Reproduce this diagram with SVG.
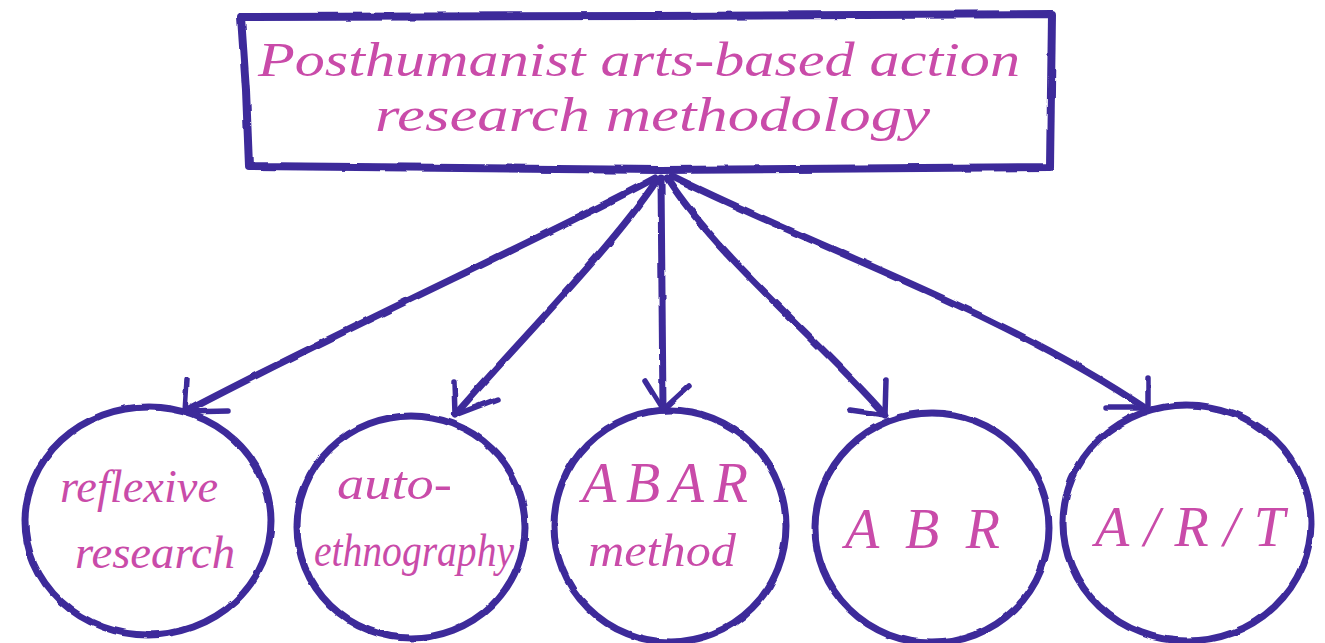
<svg xmlns="http://www.w3.org/2000/svg" width="1325" height="643" viewBox="0 0 1325 643">
  <defs>
    <!-- slight wobble for a hand-inked look -->
    <filter id="rough" x="-5%" y="-5%" width="110%" height="110%">
      <feTurbulence type="fractalNoise" baseFrequency="0.045" numOctaves="2" seed="3" result="n"/>
      <feDisplacementMap in="SourceGraphic" in2="n" scale="3" xChannelSelector="R" yChannelSelector="G"/>
    </filter>
    <style>
      .ink { fill: none; stroke: #3d2b9a; stroke-linecap: round; stroke-linejoin: round; }
      .box { stroke-width: 8; }
      .ring { stroke-width: 7; }
      .line { stroke-width: 7; }
      .head { stroke-width: 5.5; }
      .hand { fill: #c94ba9; font-family: "Liberation Serif", "DejaVu Serif", serif; font-style: italic; }
      .title { font-size: 48px; }
      .lbl { font-size: 46px; }
      .caps { font-size: 56px; }
    </style>
  </defs>
  <rect width="1325" height="643" fill="#ffffff"/>

  <g id="connectors" class="ink" filter="url(#rough)">
    <path class="line" d="M655,178 C560,230 340,330 185,412"/>
    <path class="head" d="M187,380 L185,412 L228,411"/>
    <path class="line" d="M657,180 C610,250 520,340 455,415"/>
    <path class="head" d="M454,382 L455,415 L497,399"/>
    <path class="line" d="M661,178 L663,410"/>
    <path class="head" d="M645,381 L663,410 L689,386"/>
    <path class="line" d="M667,178 C720,260 820,340 885,415"/>
    <path class="head" d="M886,380 L885,415 L850,410"/>
    <path class="line" d="M672,176 C820,250 1000,310 1148,410"/>
    <path class="head" d="M1148,378 L1148,408 L1106,408"/>
  </g>

  <g id="node-root">
    <path class="ink box" filter="url(#rough)" d="M241,17 L650,16 L1052,14 L1051,90 L1050,167 L660,170 L249,166 L246,90 Z"/>
    <text class="hand title" x="258" y="76" textLength="762" lengthAdjust="spacingAndGlyphs">Posthumanist arts-based action</text>
    <text class="hand title" x="375" y="131" textLength="555" lengthAdjust="spacingAndGlyphs">research methodology</text>
  </g>

  <g id="node-reflexive">
    <ellipse class="ink ring" filter="url(#rough)" cx="148" cy="521" rx="123" ry="114"/>
    <text class="hand lbl" x="60" y="502" textLength="158" lengthAdjust="spacingAndGlyphs">reflexive</text>
    <text class="hand lbl" x="75" y="568" textLength="160" lengthAdjust="spacingAndGlyphs">research</text>
  </g>

  <g id="node-autoethnography">
    <ellipse class="ink ring" filter="url(#rough)" cx="411" cy="527" rx="114" ry="111"/>
    <text class="hand lbl" x="337" y="499" textLength="115" lengthAdjust="spacingAndGlyphs">auto-</text>
    <text class="hand lbl" x="314" y="566" textLength="200" lengthAdjust="spacingAndGlyphs">ethnography</text>
  </g>

  <g id="node-abar">
    <ellipse class="ink ring" filter="url(#rough)" cx="670" cy="526" rx="116" ry="116"/>
    <text class="hand caps" x="582" y="502" textLength="166" lengthAdjust="spacing">ABAR</text>
    <text class="hand lbl" x="588" y="566" textLength="148" lengthAdjust="spacingAndGlyphs">method</text>
  </g>

  <g id="node-abr">
    <ellipse class="ink ring" filter="url(#rough)" cx="932" cy="528" rx="117" ry="115"/>
    <text class="hand caps" x="845" y="548" textLength="155" lengthAdjust="spacing">A B R</text>
  </g>

  <g id="node-art">
    <ellipse class="ink ring" filter="url(#rough)" cx="1187" cy="523" rx="124" ry="118"/>
    <text class="hand caps" x="1095" y="546" textLength="190" lengthAdjust="spacing">A/R/T</text>
  </g>
</svg>
